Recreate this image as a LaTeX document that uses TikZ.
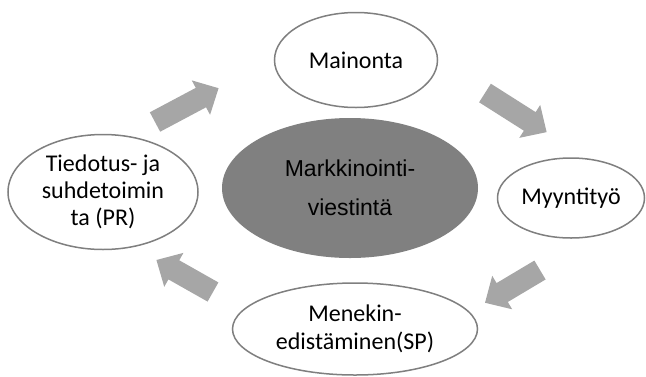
\documentclass[tikz,border=0pt]{standalone}
\usepackage{fontspec}
\setmainfont{Carlito}
\newfontfamily\arialfont{Liberation Sans}
\usetikzlibrary{shapes.geometric}

\definecolor{rimgray}{HTML}{7F7F7F}
\definecolor{coregray}{HTML}{808080}
\definecolor{arrowgray}{HTML}{A6A6A6}

\begin{document}
\begin{tikzpicture}[x=1pt, y=-1pt]
  \tikzstyle{channel} = [ellipse, draw=rimgray, line width=1.5pt, fill=white, inner sep=0pt, align=center, font=\fontsize{24}{27}\selectfont]
  \tikzstyle{core} = [ellipse, fill=coregray, inner sep=0pt, align=center, font=\arialfont\fontsize{23}{39}\selectfont]

  \useasboundingbox (0,0) rectangle (646,376);

  \node[core, minimum width=256pt, minimum height=140pt] (viestinta) at (350,188) {Markkinointi-\\viestintä};

  \node[channel, minimum width=163pt, minimum height=95pt] (mainonta) at (356,60) {Mainonta};
  \node[channel, minimum width=147pt, minimum height=80pt] (myynti) at (571,198) {Myyntityö};
  \node[channel, minimum width=245pt, minimum height=92pt, font=\fontsize{24}{28}\selectfont] (menekki) at (355,329) {Menekin-\\edistäminen(SP)};
  \node[channel, minimum width=190pt, minimum height=115pt] (tiedotus) at (103,192) {Tiedotus- ja\\suhdetoimin\\ta (PR)};

  % block arrows: tail x / tail y / angle / length
  \foreach \x / \y / \a / \l in {155/122/28/72, 485/93/-32.4/73, 540/270/-149.2/64, 213/292/150.5/65} {%
    \fill[arrowgray, shift={(\x,\y)}, rotate=\a]
      (0,-11) -- (\l-20,-11) -- (\l-20,-19.5) -- (\l,0) -- (\l-20,19.5) -- (\l-20,11) -- (0,11) -- cycle;
  }

\end{tikzpicture}
\end{document}
